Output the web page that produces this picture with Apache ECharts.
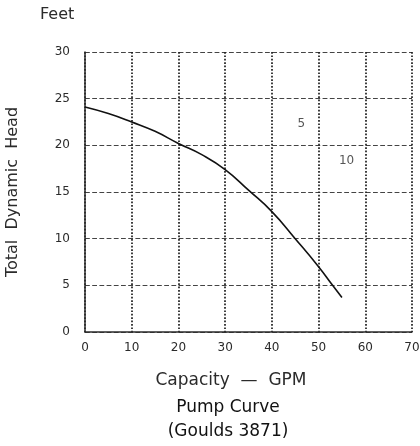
<!DOCTYPE html>
<html>
<head>
<meta charset="utf-8">
<script src="https://cdn.jsdelivr.net/npm/echarts@6/dist/echarts.min.js"></script>
<style>
  html, body { margin: 0; padding: 0; background: #fff; }
  #chart { width: 420px; height: 446px; }
</style>
</head>
<body>
<div id="chart"></div>
<script>
// pump curve (GPM, feet)
var flow = [0, 5, 10, 15, 20, 25, 30, 35, 40, 45, 50, 53, 55];
var head = [24.1, 23.4, 22.5, 21.5, 20.2, 19, 17.4, 15.2, 12.9, 10, 7, 5, 3.7];
// the two little labels inside the plot
var noteX = [46.3, 56];
var noteY = [22.3, 18.3];
var noteText = ['5', '10'];

var ink = '#2b2b2b';
var font = 'DejaVu Sans';

var curve = [];
for (var i = 0; i < flow.length; i++) {
    curve.push([flow[i], head[i]]);
}
var notes = [];
for (var j = 0; j < noteX.length; j++) {
    notes.push({ value: [noteX[j], noteY[j]], name: noteText[j] });
}

var myChart = echarts.init(document.getElementById('chart'));
var option = {
    backgroundColor: '#fff',
    animation: false,
    grid: { left: 85, right: 8, top: 52, bottom: 114, outerBoundsMode: 'none', containLabel: false },
    xAxis: {
        type: 'value',
        min: 0, max: 70, interval: 10,
        axisLine: { show: true, lineStyle: { color: ink, width: 1.5 } },
        axisTick: { show: false },
        axisLabel: { color: ink, fontFamily: font, fontSize: 12, margin: 10 },
        splitLine: { show: true, lineStyle: { color: '#1e1e1e', width: 1.7, type: 'dotted' } }
    },
    yAxis: {
        type: 'value',
        min: 0, max: 30, interval: 5,
        name: 'Total  Dynamic  Head',
        nameLocation: 'middle',
        nameGap: 64,
        nameRotate: 90,
        nameTextStyle: { color: ink, fontFamily: font, fontSize: 16 },
        axisLine: { show: true, lineStyle: { color: ink, width: 1.5 } },
        axisTick: { show: false },
        axisLabel: { color: ink, fontFamily: font, fontSize: 12, margin: 15 },
        splitLine: { show: true, lineStyle: { color: '#444', width: 1.2, type: 'dashed' } }
    },
    graphic: [
        { type: 'text', x: 40, y: 7, style: { text: 'Feet', fill: ink, font: '16px "DejaVu Sans"' } },
        { type: 'text', x: 231, y: 381, style: { text: 'Capacity  —  GPM', fill: ink, font: '17px "DejaVu Sans"', textAlign: 'center', textVerticalAlign: 'middle' } },
        { type: 'text', x: 228, y: 408, style: { text: 'Pump Curve', fill: '#111', font: '17px "DejaVu Sans"', textAlign: 'center', textVerticalAlign: 'middle' } },
        { type: 'text', x: 228, y: 432, style: { text: '(Goulds 3871)', fill: '#111', font: '17px "DejaVu Sans"', textAlign: 'center', textVerticalAlign: 'middle' } }
    ],
    series: [
        {
            type: 'line',
            data: curve,
            smooth: true,
            symbol: 'none',
            lineStyle: { color: '#111', width: 1.6 }
        },
        {
            type: 'scatter',
            data: notes,
            symbolSize: 0,
            label: {
                show: true,
                position: 'inside',
                formatter: '{b}',
                color: ink,
                fontFamily: font,
                fontSize: 12
            }
        }
    ]
};
myChart.setOption(option);
</script>
</body>
</html>
